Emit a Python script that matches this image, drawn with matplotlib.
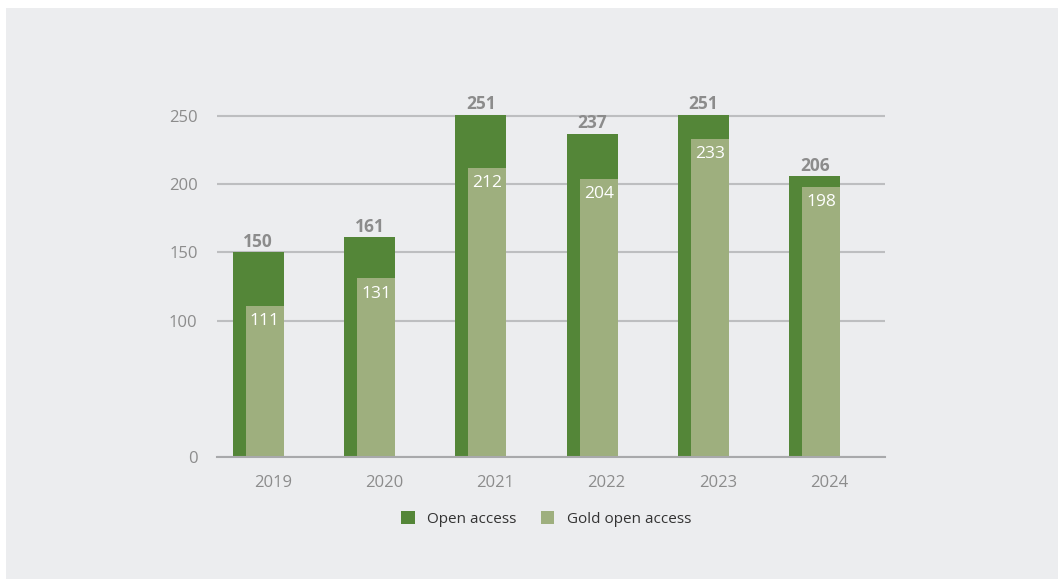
import numpy as np
import matplotlib.pyplot as plt
from matplotlib.patches import Rectangle

# Publication counts per year
years = ['2019', '2020', '2021', '2022', '2023', '2024']
open_access = [150, 161, 251, 237, 251, 206]
gold_open_access = [111, 131, 212, 204, 233, 198]

dark_green = '#548638'
light_green = '#9eaf7e'
panel_grey = '#ecedef'
text_grey = '#8c8c8c'

plt.rcParams['font.family'] = ['Open Sans', 'DejaVu Sans']

W, H = 1058, 579
fig = plt.figure(figsize=(W / 100, H / 100), dpi=100)
fig.patch.set_facecolor('white')

# grey panel behind the chart
fig.patches.append(Rectangle((6 / W, 0), 1, 1 - 8 / H, transform=fig.transFigure,
                             facecolor=panel_grey, edgecolor='none', zorder=-10))

# axes: x from 217 to 885 px, y=0 at 457 px, 1.364 px per unit
ymax = 270
y0_px = 457
px_per_unit = (457 - 116) / 250
top_px = y0_px - ymax * px_per_unit
ax = fig.add_axes([217 / W, 1 - y0_px / H, (885 - 217) / W, (y0_px - top_px) / H])
ax.set_facecolor('none')

x = np.arange(len(years))
dark_w = 0.458
light_w = 0.341
dark_x = x - 0.13
light_x = dark_x + (dark_w - light_w) / 2

ax.bar(dark_x, open_access, width=dark_w, color=dark_green, label='Open access', zorder=3)
ax.bar(light_x, gold_open_access, width=light_w, color=light_green,
       label='Gold open access', zorder=4)

for xi, v in zip(dark_x, open_access):
    ax.annotate(str(v), (xi, v), xytext=(0, 1), textcoords='offset points',
                ha='center', va='bottom', fontsize=12.5, fontweight='bold', color=text_grey)
for xi, v in zip(light_x, gold_open_access):
    ax.annotate(str(v), (xi, v), xytext=(0, -11), textcoords='offset points',
                ha='center', va='center', fontsize=12.5, color='white', zorder=5)

ax.set_xlim(-0.5, len(years) - 0.5)
ax.set_ylim(0, ymax)
ax.set_xticks(x)
ax.set_xticklabels(years)
ax.set_yticks([0, 100, 150, 200, 250])

ax.grid(axis='y', color='#bdbec0', linewidth=1.5, zorder=1)
ax.tick_params(axis='both', length=0, labelsize=12, labelcolor=text_grey)
ax.tick_params(axis='x', pad=13)
ax.tick_params(axis='y', pad=14)
for side in ['top', 'right', 'left']:
    ax.spines[side].set_visible(False)
ax.spines['bottom'].set_color('#a8a9ab')
ax.spines['bottom'].set_linewidth(1.5)
ax.spines['bottom'].set_zorder(5)

leg = fig.legend(loc='center', bbox_to_anchor=(546 / W, 1 - 519 / H), ncol=2,
                 frameon=False, fontsize=11, handlelength=0.9, handleheight=0.9,
                 handletextpad=0.8, columnspacing=1.6)
for t in leg.get_texts():
    t.set_color('#333333')

fig.savefig('out.png', dpi=100, facecolor=fig.get_facecolor())
